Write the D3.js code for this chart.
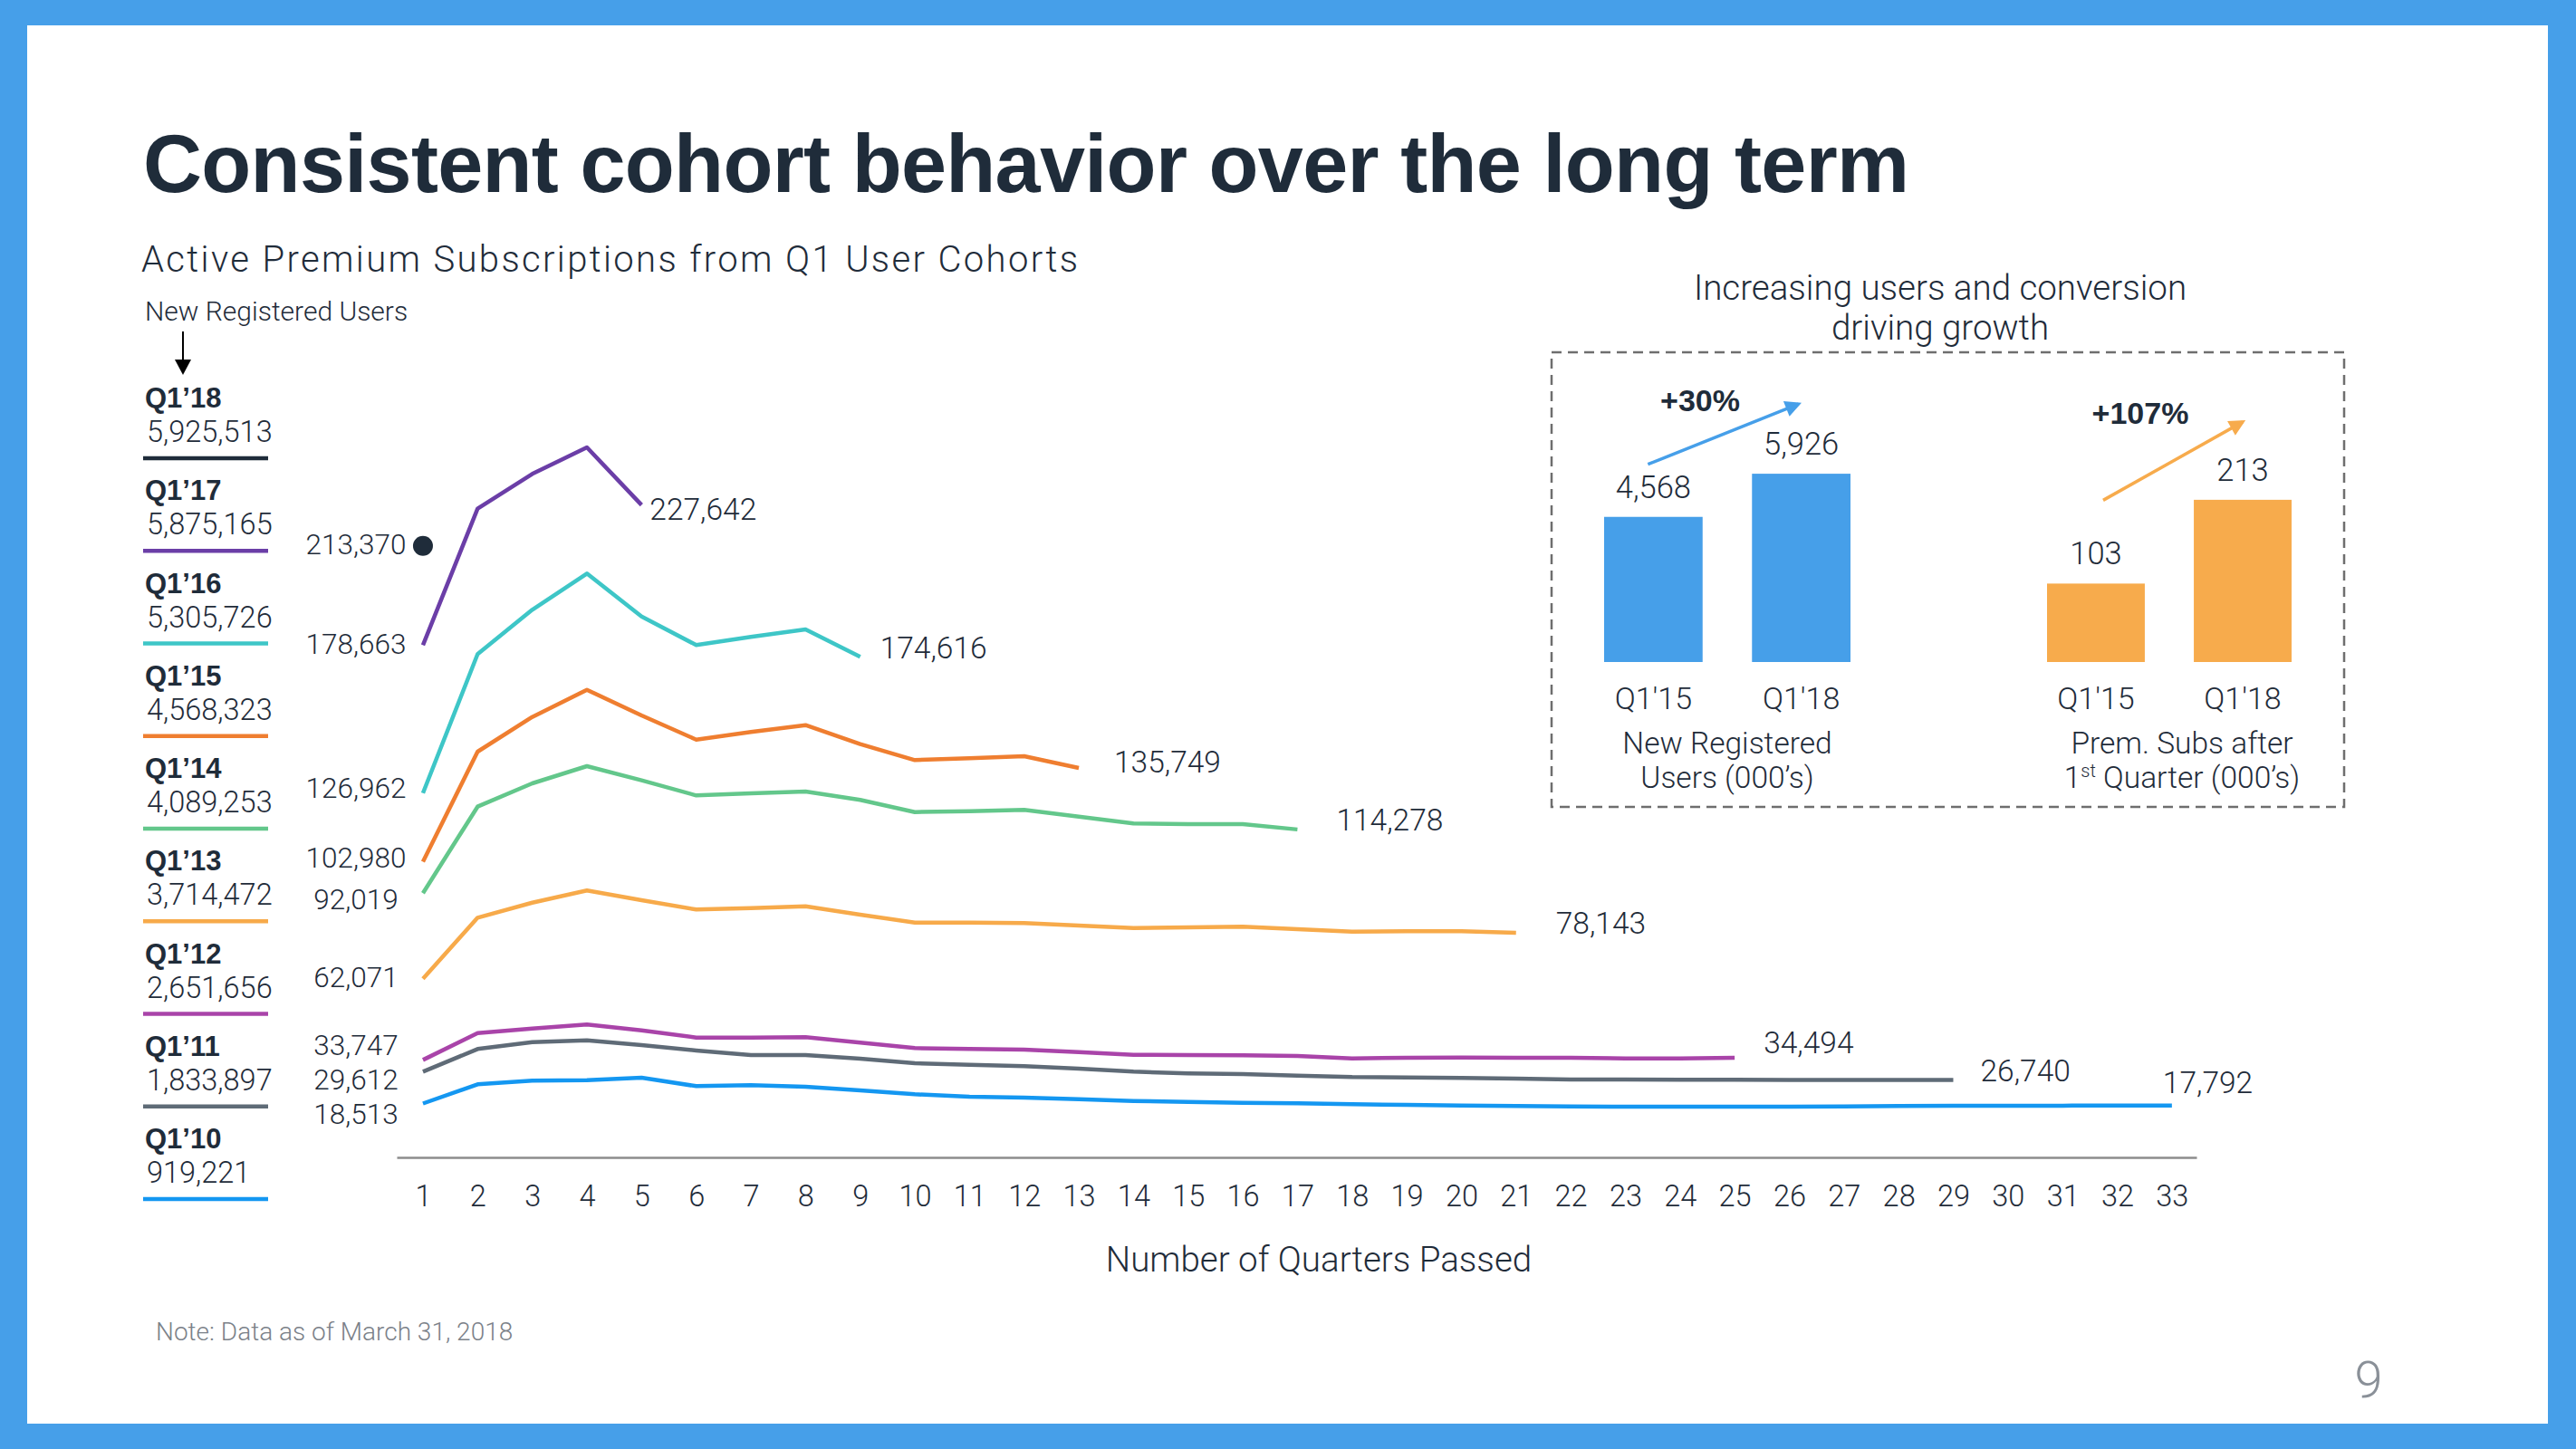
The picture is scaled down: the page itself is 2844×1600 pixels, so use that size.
<!DOCTYPE html>
<html>
<head>
<meta charset="utf-8">
<script src="https://cdn.jsdelivr.net/npm/d3@7"></script>
<style>
  html, body { margin: 0; padding: 0; background: #469fe9; }
  svg { display: block; }
  .light { font-family: "Roboto", "Liberation Sans", sans-serif; font-weight: 300; }
  .bold { font-family: "Liberation Sans", "Roboto", sans-serif; font-weight: 700; }
</style>
</head>
<body>
<svg id="chart" width="2844" height="1600"></svg>
<script>
// ---------------- DATA ----------------
const cohorts = ["Q1’18", "Q1’17", "Q1’16", "Q1’15", "Q1’14", "Q1’13", "Q1’12", "Q1’11", "Q1’10"];
const newRegisteredUsers = [5925513, 5875165, 5305726, 4568323, 4089253, 3714472, 2651656, 1833897, 919221];
const cohortColors = ["#1f2c3a", "#6b3ea7", "#3ec6c7", "#ef7e30", "#63c78b", "#f7aa4a", "#a944a9", "#5f6b77", "#1497f1"];

const subsQ118 = [213370];
const subsQ117 = [178663, 226360, 238510, 247780, 227642];
const subsQ116 = [126962, 175540, 191040, 203700, 188700, 178700, 181550, 184180, 174616];
const subsQ115 = [102980, 141460, 153580, 163070, 154110, 145670, 148320, 150730, 144080, 138510, 139150, 139870, 135749];
const subsQ114 = [92019, 122250, 130380, 136390, 131430, 126170, 126900, 127530, 124590, 120350, 120670, 121110, 118770, 116360, 116140, 116140, 114278];
const subsQ113 = [62071, 83450, 88700, 92940, 89560, 86290, 86800, 87440, 84490, 81750, 81750, 81540, 80700, 79850, 80060, 80270, 79430, 78580, 78700, 78700, 78143];
const subsQ112 = [33747, 43140, 44720, 46100, 44090, 41550, 41550, 41680, 39770, 37870, 37550, 37340, 36500, 35540, 35440, 35340, 35130, 34270, 34490, 34600, 34490, 34490, 34270, 34270, 34494];
const subsQ111 = [29612, 37550, 39980, 40610, 38920, 37030, 35440, 35440, 34180, 32600, 32060, 31540, 30700, 29640, 29010, 28800, 28270, 27740, 27640, 27430, 27220, 26900, 26900, 26850, 26800, 26750, 26750, 26720, 26740];
const subsQ110 = [18513, 25210, 26480, 26690, 27530, 24580, 24900, 24370, 23100, 21730, 20890, 20570, 20040, 19410, 19090, 18770, 18560, 18250, 18040, 17820, 17610, 17500, 17400, 17400, 17400, 17400, 17500, 17610, 17710, 17710, 17760, 17790, 17792];
const cohortSeries = [subsQ118, subsQ117, subsQ116, subsQ115, subsQ114, subsQ113, subsQ112, subsQ111, subsQ110];

const quarterTicks = d3.range(1, 34);

// Inset bar charts
const insetCategories = ["Q1'15", "Q1'18"];
const insetUsers = [4568, 5926];        // New Registered Users (000's)
const insetPremSubs = [103, 213];       // Prem. Subs after 1st Quarter (000's)
const insetGrowth = ["+30%", "+107%"];

// label nudges (layout only)
const startLabelDy = [9, 10, 5, 6, 18, 9, -5, 20, 23];
const endLabelOffset = [null, [9, 16], [22, 2], [39, 5], [43, 1.5], [44, 1], [32, -5], [30, 1], [-10, -14]];

// ---------------- DRAW ----------------
const navy = "#1f2c3a";
const svg = d3.select("#chart");

// frame
svg.append("rect").attr("x", 0).attr("y", 0).attr("width", 2844).attr("height", 1600).attr("fill", "#469fe9");
svg.append("rect").attr("x", 30).attr("y", 28).attr("width", 2783).attr("height", 1544).attr("fill", "#ffffff");

function fitSpacing(sel, target) {
  const node = sel.node();
  const n = sel.text().length;
  const w = node.getComputedTextLength();
  sel.attr("letter-spacing", ((target - w) / Math.max(1, n - 1)).toFixed(3));
}

// title
const title = svg.append("text").attr("class", "bold")
  .attr("x", 158).attr("y", 212).attr("font-size", 90).attr("fill", navy)
  .text("Consistent cohort behavior over the long term");
fitSpacing(title, 1950);

const subtitle = svg.append("text").attr("class", "light")
  .attr("x", 156).attr("y", 300).attr("font-size", 40).attr("font-weight", 400).attr("fill", navy)
  .text("Active Premium Subscriptions from Q1 User Cohorts");
fitSpacing(subtitle, 1034);

svg.append("text").attr("class", "light").attr("font-weight", 400)
  .attr("x", 160).attr("y", 354).attr("font-size", 30).attr("fill", navy)
  .text("New Registered Users");

// small down arrow
svg.append("line").attr("x1", 202).attr("x2", 202).attr("y1", 366).attr("y2", 402)
  .attr("stroke", "#000").attr("stroke-width", 2);
svg.append("path").attr("d", "M193,397 L211,397 L202,414 Z").attr("fill", "#000");

// legend
const legendTop = 450, legendStep = 102.25;
cohorts.forEach((c, i) => {
  const by = legendTop + i * legendStep;
  svg.append("text").attr("class", "bold").attr("x", 160).attr("y", by)
    .attr("font-size", 31).attr("fill", navy).text(c);
  svg.append("text").attr("class", "light").attr("x", 162).attr("y", by + 38)
    .attr("font-size", 32.5).attr("fill", navy).text(d3.format(",")(newRegisteredUsers[i]));
  svg.append("line").attr("x1", 158).attr("x2", 296).attr("y1", by + 56).attr("y2", by + 56)
    .attr("stroke", cohortColors[i]).attr("stroke-width", 4.5);
});

// scales
const x = d3.scaleLinear().domain([0.52, 33.45]).range([438, 2425]);
const y = d3.scaleLinear().domain([0, 250000]).range([1277, 487]);

// x axis
const xAxis = d3.axisBottom(x).tickValues(quarterTicks).tickSize(0).tickPadding(0).tickFormat(d3.format("d"));
const gx = svg.append("g").attr("transform", "translate(0,1278)").call(xAxis);
gx.select(".domain").attr("stroke", "#8c8c8c").attr("stroke-width", 2.5);
gx.selectAll(".tick text").attr("class", "light").attr("font-size", 32.5).attr("fill", navy)
  .attr("dy", null).attr("y", 54);

svg.append("text").attr("class", "light").attr("x", 1456).attr("y", 1404)
  .attr("text-anchor", "middle").attr("font-size", 38.5).attr("fill", navy)
  .text("Number of Quarters Passed");

// lines
const line = d3.line().x((d, i) => x(i + 1)).y(d => y(d));
cohortSeries.forEach((s, i) => {
  if (s.length > 1) {
    svg.append("path").datum(s).attr("d", line)
      .attr("fill", "none").attr("stroke", cohortColors[i]).attr("stroke-width", 4.5)
      .attr("stroke-linejoin", "round");
  } else {
    svg.append("circle").attr("cx", x(1)).attr("cy", y(s[0])).attr("r", 11).attr("fill", cohortColors[i]);
  }
  // start label
  svg.append("text").attr("class", "light").attr("x", 393).attr("y", y(s[0]) + startLabelDy[i])
    .attr("text-anchor", "middle").attr("font-size", 31.5).attr("fill", navy)
    .text(d3.format(",")(s[0]));
  // end label
  if (endLabelOffset[i]) {
    const n = s.length;
    svg.append("text").attr("class", "light")
      .attr("x", x(n) + endLabelOffset[i][0]).attr("y", y(s[n - 1]) + endLabelOffset[i][1])
      .attr("font-size", 33.5).attr("fill", navy)
      .text(d3.format(",")(s[n - 1]));
  }
});

// ---------------- INSET ----------------
svg.append("text").attr("class", "light").attr("x", 2142).attr("y", 331)
  .attr("text-anchor", "middle").attr("font-size", 38.5).attr("fill", navy)
  .text("Increasing users and conversion");
svg.append("text").attr("class", "light").attr("x", 2142).attr("y", 375)
  .attr("text-anchor", "middle").attr("font-size", 38.5).attr("fill", navy)
  .text("driving growth");

svg.append("rect").attr("x", 1713).attr("y", 389).attr("width", 875).attr("height", 502)
  .attr("fill", "none").attr("stroke", "#6e6e6e").attr("stroke-width", 2.5)
  .attr("stroke-dasharray", "11 7");

const baseY = 731;
const xUsers = d3.scaleBand().domain(insetCategories).range([1771, 2043]).paddingInner(0.334);
const xPrem = d3.scaleBand().domain(insetCategories).range([2260, 2530]).paddingInner(0.334);
const yUsers = d3.scaleLinear().domain([0, 6000]).range([baseY, baseY - 210.5]);
const yPrem = d3.scaleLinear().domain([0, 220]).range([baseY, baseY - 185]);

const defs = svg.append("defs");
function marker(id, color) {
  defs.append("marker").attr("id", id).attr("viewBox", "0 0 10 10").attr("refX", 8).attr("refY", 5)
    .attr("markerWidth", 20).attr("markerHeight", 18).attr("orient", "auto")
    .attr("markerUnits", "userSpaceOnUse")
    .append("path").attr("d", "M0,0 L10,5 L0,10 Z").attr("fill", color);
}
marker("arrBlue", "#469fe9");
marker("arrOrange", "#f7ab4c");

function drawGroup(xs, ys, vals, color, fmt, labelLines, labelCx) {
  insetCategories.forEach((c, i) => {
    const bx = xs(c), bw = xs.bandwidth();
    svg.append("rect").attr("x", bx).attr("y", ys(vals[i])).attr("width", bw)
      .attr("height", baseY - ys(vals[i])).attr("fill", color);
    svg.append("text").attr("class", "light").attr("x", bx + bw / 2).attr("y", ys(vals[i]) - 21)
      .attr("text-anchor", "middle").attr("font-size", 34.5).attr("fill", navy).text(fmt(vals[i]));
    svg.append("text").attr("class", "light").attr("x", bx + bw / 2).attr("y", 783)
      .attr("text-anchor", "middle").attr("font-size", 34).attr("fill", navy).text(c);
  });
  labelLines.forEach((l, j) => {
    const t = svg.append("text").attr("class", "light").attr("x", labelCx).attr("y", 832 + j * 38)
      .attr("text-anchor", "middle").attr("font-size", 33.5).attr("fill", navy);
    l.forEach(part => {
      const ts = t.append("tspan").text(part.t);
      if (part.sup) ts.attr("font-size", 20).attr("dy", -12);
      else if (part.after) ts.attr("dy", 12);
    });
  });
}

drawGroup(xUsers, yUsers, insetUsers, "#469fe9", d3.format(","),
  [[{t: "New Registered"}], [{t: "Users (000’s)"}]], 1907);
drawGroup(xPrem, yPrem, insetPremSubs, "#f7ab4c", d3.format("d"),
  [[{t: "Prem. Subs after"}], [{t: "1"}, {t: "st", sup: true}, {t: " Quarter (000’s)", after: true}]], 2409);

// growth arrows + labels
const u0 = xUsers(insetCategories[0]) + xUsers.bandwidth() / 2;
const u1 = xUsers(insetCategories[1]) + xUsers.bandwidth() / 2;
svg.append("line").attr("x1", u0 - 6).attr("y1", yUsers(insetUsers[0]) - 58)
  .attr("x2", u1 - 3).attr("y2", yUsers(insetUsers[1]) - 77)
  .attr("stroke", "#469fe9").attr("stroke-width", 3.5).attr("marker-end", "url(#arrBlue)");
svg.append("text").attr("class", "bold").attr("x", 1877).attr("y", 454)
  .attr("text-anchor", "middle").attr("font-size", 34).attr("fill", navy).text(insetGrowth[0]);

const p0 = xPrem(insetCategories[0]) + xPrem.bandwidth() / 2;
const p1 = xPrem(insetCategories[1]) + xPrem.bandwidth() / 2;
svg.append("line").attr("x1", p0 + 8).attr("y1", yPrem(insetPremSubs[0]) - 92)
  .attr("x2", p1).attr("y2", yPrem(insetPremSubs[1]) - 86)
  .attr("stroke", "#f7ab4c").attr("stroke-width", 3.5).attr("marker-end", "url(#arrOrange)");
svg.append("text").attr("class", "bold").attr("x", 2363).attr("y", 468)
  .attr("text-anchor", "middle").attr("font-size", 34).attr("fill", navy).text(insetGrowth[1]);

// footer
svg.append("text").attr("class", "light").attr("font-weight", 400).attr("x", 172).attr("y", 1480)
  .attr("font-size", 28).attr("fill", "#7b8189").text("Note: Data as of March 31, 2018");
svg.append("text").attr("class", "light").attr("x", 2615).attr("y", 1543)
  .attr("text-anchor", "middle").attr("font-size", 56).attr("fill", "#8a9098").text("9");
</script>
</body>
</html>
